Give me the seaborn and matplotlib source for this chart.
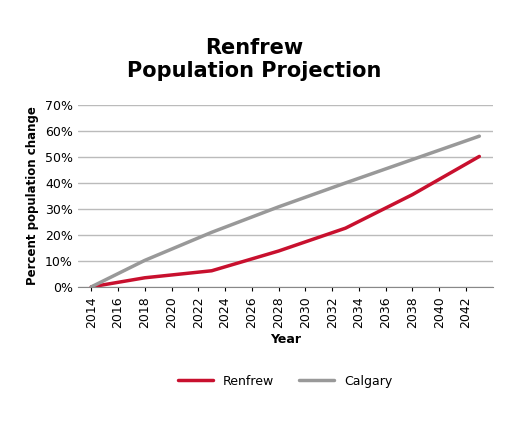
import matplotlib
matplotlib.use('Agg')
import matplotlib.pyplot as plt
import seaborn as sns
import pandas as pd
from matplotlib.ticker import PercentFormatter

years = [2014, 2018, 2023, 2028, 2033, 2038, 2043]
renfrew = [0, 3.5, 6.2, 13.8, 22.6, 35.5, 50.2]
calgary = [0, 10.2, 21.0, 30.8, 40.0, 49.0, 58.0]

df = pd.DataFrame({'Year': years * 2,
                   'value': renfrew + calgary,
                   'series': ['Renfrew'] * len(years) + ['Calgary'] * len(years)})

sns.set_style('white')
plt.rcParams['text.color'] = 'black'
plt.rcParams['axes.labelcolor'] = 'black'
plt.rcParams['xtick.color'] = 'black'
plt.rcParams['ytick.color'] = 'black'
fig = plt.figure(figsize=(5.09, 4.25), dpi=100)
ax = fig.add_axes([0.153, 0.325, 0.815, 0.428])
sns.lineplot(data=df, x='Year', y='value', hue='series',
             palette={'Renfrew': '#c8102e', 'Calgary': '#999999'},
             linewidth=2.5, ax=ax)

ax.set_xlim(2013.0, 2044.0)
ax.set_ylim(0, 70)
ax.set_xticks(range(2014, 2043, 2))
ax.tick_params(axis='x', rotation=90, labelsize=9, length=3, direction='out', bottom=True)
ax.tick_params(axis='y', labelsize=9, length=0)
ax.yaxis.set_major_formatter(PercentFormatter(decimals=0))
ax.set_yticks(range(0, 71, 10))
ax.grid(axis='y', color='#bbbbbb', linewidth=1)
for s in ['top', 'right', 'left']:
    ax.spines[s].set_visible(False)
ax.spines['bottom'].set_color('#888888')
ax.set_xlabel('Year', fontsize=9, fontweight='bold')
ax.set_ylabel('Percent population change', fontsize=8.5, fontweight='bold')

fig.suptitle('Renfrew\nPopulation Projection', fontsize=15, fontweight='bold', y=0.91)
ax.legend(loc='upper center', bbox_to_anchor=(0.5, -0.42), ncol=2, frameon=False,
          fontsize=9, handlelength=2.8)

fig.savefig('out.png', dpi=100)
